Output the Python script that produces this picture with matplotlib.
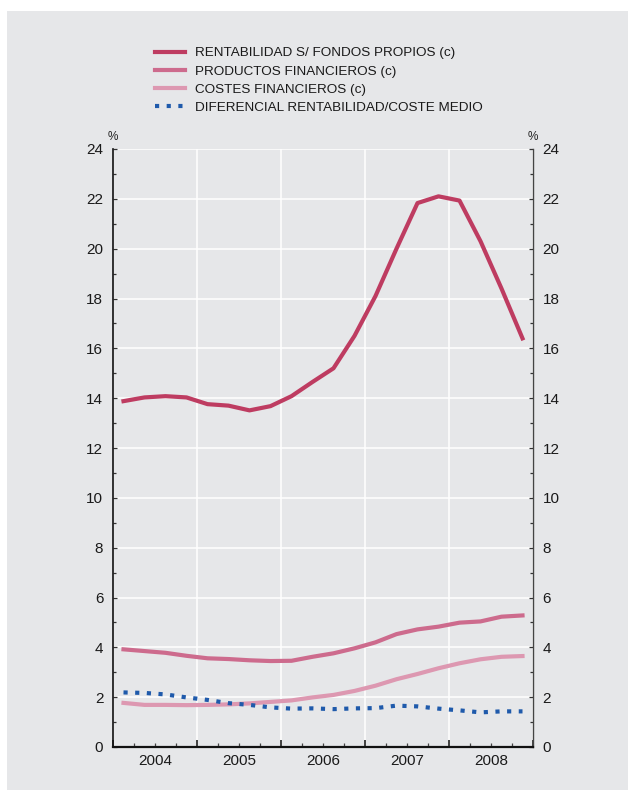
import numpy as np
import matplotlib
matplotlib.use("Agg")
import matplotlib.pyplot as plt
from matplotlib.patches import Rectangle
from matplotlib.ticker import FixedLocator, FixedFormatter, MultipleLocator

plt.rcParams['font.family'] = ['Liberation Sans', 'DejaVu Sans']

# -----------------------------------------------------------------------------
# Data (quarterly, 2004 Q1 - 2008 Q4), in %
# -----------------------------------------------------------------------------
years = [2004, 2005, 2006, 2007, 2008]
labels = ['RENTABILIDAD S/ FONDOS PROPIOS (c)',
          'PRODUCTOS FINANCIEROS (c)',
          'COSTES FINANCIEROS (c)',
          'DIFERENCIAL RENTABILIDAD/COSTE MEDIO']

rentabilidad = [13.88, 14.03, 14.08, 14.03, 13.76, 13.70, 13.51, 13.68, 14.08, 14.65,
                15.20, 16.50, 18.10, 20.00, 21.83, 22.10, 21.93, 20.30, 18.40, 16.40]
productos = [3.92, 3.85, 3.78, 3.66, 3.56, 3.53, 3.48, 3.45, 3.46, 3.62,
             3.76, 3.96, 4.20, 4.53, 4.72, 4.83, 4.99, 5.04, 5.23, 5.28]
costes = [1.77, 1.69, 1.69, 1.68, 1.69, 1.71, 1.75, 1.81, 1.87, 1.99,
          2.09, 2.25, 2.46, 2.72, 2.93, 3.16, 3.36, 3.52, 3.62, 3.65]
diferencial = [2.19, 2.17, 2.11, 1.99, 1.89, 1.76, 1.69, 1.59, 1.54, 1.55,
               1.52, 1.55, 1.56, 1.66, 1.63, 1.54, 1.47, 1.39, 1.43, 1.43]

# quarter mid-points on a fractional-year axis
x = np.array([y + (q + 0.5) / 4 for y in years for q in range(4)])

# -----------------------------------------------------------------------------
# Figure
# -----------------------------------------------------------------------------
W, H = 629, 794
fig = plt.figure(figsize=(W / 100, H / 100), dpi=100, facecolor='white')
bg = '#e6e7e9'
fig.patches.append(Rectangle((7 / W, 1 - 790 / H), 621 / W, 779 / H,
                             transform=fig.transFigure, facecolor=bg,
                             edgecolor='none', zorder=-1))

ax = fig.add_axes([113 / W, 1 - 747 / H, 420 / W, 598 / H])
ax.set_facecolor(bg)

lw = 3.0
ax.plot(x, rentabilidad, color='#be3c61', lw=lw, label=labels[0],
        solid_joinstyle='round', zorder=4)
ax.plot(x, productos, color='#cd6b8d', lw=lw, label=labels[1],
        solid_joinstyle='round', zorder=3)
ax.plot(x, costes, color='#dd98b1', lw=lw, label=labels[2],
        solid_joinstyle='round', zorder=3)
ax.plot(x, diferencial, color='#1f5aab', lw=lw, ls=(0, (1, 1.8)),
        label=labels[3], zorder=5)

# -----------------------------------------------------------------------------
# Axes, ticks and grid
# -----------------------------------------------------------------------------
ax.set_xlim(years[0], years[-1] + 1)
ax.set_ylim(0, 24)

ax.xaxis.set_major_locator(FixedLocator(list(range(years[0], years[-1] + 2))))
ax.xaxis.set_major_formatter(FixedFormatter([''] * (len(years) + 1)))
q_pos = [y + q / 4 for y in years for q in (1, 2, 3)]
q_lab = [str(y) if q == 2 else '' for y in years for q in (1, 2, 3)]
ax.xaxis.set_minor_locator(FixedLocator(q_pos))
ax.xaxis.set_minor_formatter(FixedFormatter(q_lab))

ax.yaxis.set_major_locator(MultipleLocator(2))
ax.yaxis.set_minor_locator(MultipleLocator(1))

ax.tick_params(axis='x', which='major', direction='in', length=5, width=1.2,
               color='#222222')
ax.tick_params(axis='x', which='minor', direction='in', length=3.2, width=0.9,
               color='#444444', labelsize=11, pad=5, labelcolor='#1a1a1a')
ax.tick_params(axis='y', which='both', direction='in', left=True, right=True,
               labelleft=True, labelright=True, labelsize=11, width=0.9,
               color='#333333', labelcolor='#1a1a1a')
ax.tick_params(axis='y', which='major', length=2.8, pad=7)
ax.tick_params(axis='y', which='minor', length=2.5)

ax.grid(True, which='major', axis='both', color='white', lw=1.1, zorder=1)
ax.set_axisbelow(True)

ax.spines['top'].set_visible(False)
ax.spines['left'].set_linewidth(1.2)
ax.spines['left'].set_color('#111111')
ax.spines['bottom'].set_linewidth(1.6)
ax.spines['bottom'].set_color('#111111')
ax.spines['right'].set_linewidth(1.0)
ax.spines['right'].set_color('#444444')

ax.text(0, 1.01, '%', transform=ax.transAxes, ha='center', va='bottom',
        fontsize=8.5, color='#222222')
ax.text(1, 1.01, '%', transform=ax.transAxes, ha='center', va='bottom',
        fontsize=8.5, color='#222222')

# -----------------------------------------------------------------------------
# Legend
# -----------------------------------------------------------------------------
fig.legend(loc='upper left', bbox_to_anchor=(155 / W, 1 - 47 / H),
           frameon=False, fontsize=9.7, handlelength=2.2, handletextpad=0.8,
           labelspacing=0.42, borderpad=0, borderaxespad=0,
           labelcolor='#1a1a1a')

fig.savefig('out.png', dpi=100, facecolor='white')
